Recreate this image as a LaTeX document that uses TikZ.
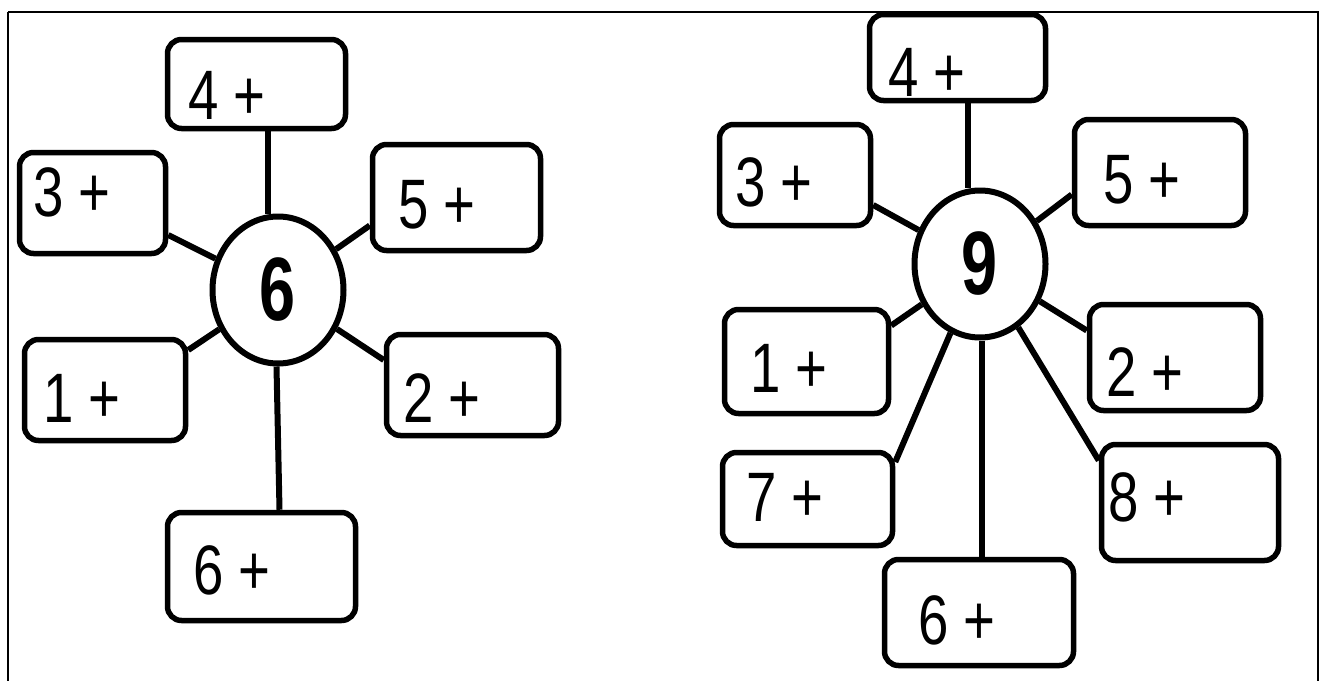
\documentclass[tikz,border=0pt]{standalone}
\usepackage{fontspec}
\setmainfont{Liberation Sans}
\usetikzlibrary{shapes.geometric}
\tikzset{
  box/.style={draw=black, line width=5.5pt, rounded corners=14pt, inner sep=0pt},
  hub/.style={draw=black, line width=6pt, ellipse, inner sep=0pt, minimum width=131pt, minimum height=147pt,
    font=\fontsize{90}{90}\selectfont\bfseries},
  lbl/.style={anchor=west, inner sep=0pt, font=\fontsize{70}{70}\selectfont},
  link/.style={draw=black, line width=6pt},
  frame/.style={draw=black, line width=2.5pt}
}
\newcommand{\nar}[1]{\scalebox{0.78}[1]{#1}}
\newcommand{\narb}[1]{\scalebox{0.72}[1]{#1}}
\begin{document}
\begin{tikzpicture}[x=1pt,y=-1pt]
\useasboundingbox (0,0) rectangle (1325,680);
\draw[frame] (8,12) -- (8,700) (1318,700) -- (1318,12) -- (8,12);
% ---------- left flower ----------
\node[hub] (C6) at (278,290) {\narb{6}};
\node[box, minimum width=178pt, minimum height=89pt] (L4) at (256.5,84) {};
\node[box, minimum width=146pt, minimum height=101pt] (L3) at (92.5,203) {};
\node[box, minimum width=168pt, minimum height=106pt] (L5) at (456.5,197.5) {};
\node[box, minimum width=161pt, minimum height=101pt] (L1) at (105,390) {};
\node[box, minimum width=172pt, minimum height=101pt] (L2) at (472.5,385) {};
\node[box, minimum width=188pt, minimum height=108pt] (L6) at (261.5,566.5) {};
\node[lbl] (t4) at (188,95) {\nar{4 +}};
\node[lbl] (t3) at (33,192) {\nar{3 +}};
\node[lbl] (t5) at (398,205) {\nar{5 +}};
\node[lbl] (t1) at (43,398) {\nar{1 +}};
\node[lbl] (t2) at (403,398) {\nar{2 +}};
\node[lbl] (t6) at (193,570) {\nar{6 +}};
\draw[link] ([xshift=11pt]L4.south) -- ([xshift=11pt]L4.south |- C6.north);
\draw[link] ([yshift=-32pt]L3.east) -- (C6);
\draw[link] ([yshift=-28pt]L5.west) -- (C6);
\draw[link] ([yshift=40pt]L1.east) -- (C6);
\draw[link] ([yshift=25pt]L2.west) -- (C6);
\draw[link] ([xshift=18pt]L6.north) -- ([xshift=15pt]L6.north |- C6.south);
% ---------- right flower ----------
\node[hub] (C9) at (980,264) {\narb{9}};
\node[box, minimum width=176pt, minimum height=86pt] (R4) at (957.5,57.5) {};
\node[box, minimum width=151pt, minimum height=101pt] (R3) at (795,175) {};
\node[box, minimum width=171pt, minimum height=106pt] (R5) at (1160,172.5) {};
\node[box, minimum width=164pt, minimum height=104pt] (R1) at (806.5,361.5) {};
\node[box, minimum width=171pt, minimum height=106pt] (R2) at (1175,357.5) {};
\node[box, minimum width=170pt, minimum height=93pt] (R7) at (807.5,499) {};
\node[box, minimum width=177pt, minimum height=116pt] (R8) at (1190,502.5) {};
\node[box, minimum width=189pt, minimum height=106pt] (R6) at (979,612.5) {};
\node[lbl] (s4) at (888,72) {\nar{4 +}};
\node[lbl] (s3) at (735,182) {\nar{3 +}};
\node[lbl] (s5) at (1103,180) {\nar{5 +}};
\node[lbl] (s1) at (750,368) {\nar{1 +}};
\node[lbl] (s2) at (1106,372) {\nar{2 +}};
\node[lbl] (s7) at (746,497) {\nar{7 +}};
\node[lbl] (s8) at (1108,497) {\nar{8 +}};
\node[lbl] (s6) at (918,620) {\nar{6 +}};
\draw[link] ([xshift=10pt]R4.south) -- ([xshift=10pt]R4.south |- C9.north);
\draw[link] ([yshift=-30pt]R3.east) -- (C9);
\draw[link] ([yshift=-22pt]R5.west) -- (C9);
\draw[link] ([yshift=36pt]R1.east) -- (C9);
\draw[link] ([yshift=27pt]R2.west) -- (C9);
\draw[link] ([yshift=37pt]R7.east) -- (C9);
\draw[link] ([yshift=42pt]R8.west) -- (C9);
\draw[link] ([xshift=3pt]R6.north) -- ([xshift=3pt]R6.north |- C9.south);
\end{tikzpicture}
\end{document}
